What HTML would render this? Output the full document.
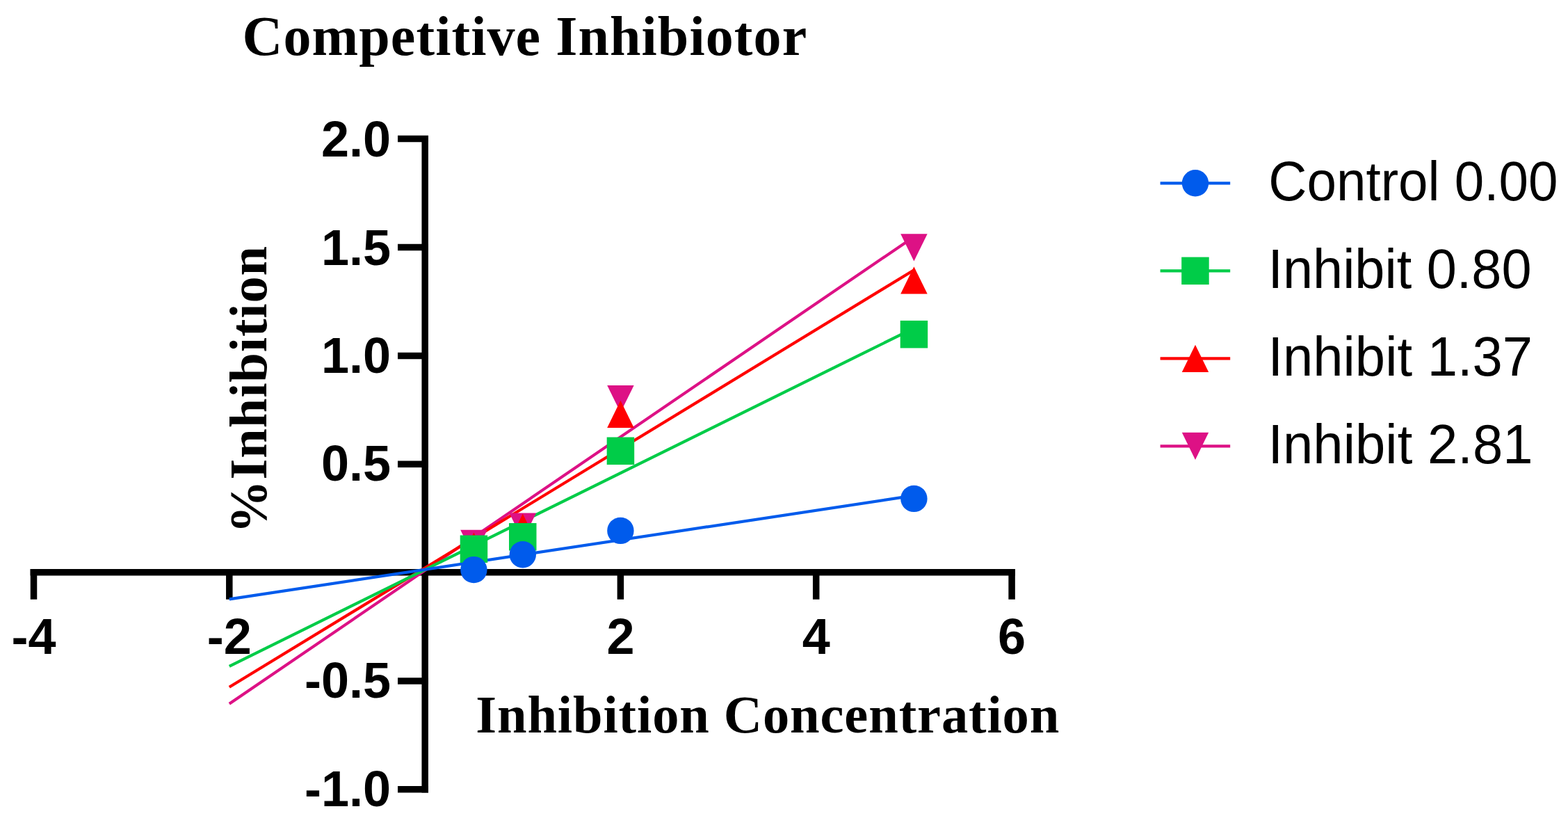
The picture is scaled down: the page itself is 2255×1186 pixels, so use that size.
<!DOCTYPE html><html><head><meta charset="utf-8"><style>html,body{margin:0;padding:0;background:#fff;}svg{display:block}</style></head><body>
<svg width="2255" height="1186" viewBox="0 0 2255 1186">
<rect width="2255" height="1186" fill="#fff"/>
<text x="348.6" y="78.6" font-family="Liberation Serif, serif" font-weight="bold" font-size="80" letter-spacing="1.08" fill="#000">Competitive Inhibiotor</text>
<g fill="none" stroke="#000" stroke-width="9.5" stroke-linecap="butt">
<line x1="611.2" y1="194.9" x2="611.2" y2="1139.5"/>
<line x1="572" y1="199.6" x2="616.0" y2="199.6"/>
<line x1="572" y1="355.5" x2="616.0" y2="355.5"/>
<line x1="572" y1="511.4" x2="616.0" y2="511.4"/>
<line x1="572" y1="667.2" x2="616.0" y2="667.2"/>
<line x1="572" y1="979.0" x2="616.0" y2="979.0"/>
<line x1="572" y1="1134.8" x2="616.0" y2="1134.8"/>
<line x1="43.6" y1="822.8" x2="1459.9" y2="822.8"/>
<line x1="48.5" y1="818.0" x2="48.5" y2="861.7"/>
<line x1="329.8" y1="818.0" x2="329.8" y2="861.7"/>
<line x1="892.4" y1="818.0" x2="892.4" y2="861.7"/>
<line x1="1173.7" y1="818.0" x2="1173.7" y2="861.7"/>
<line x1="1455.1" y1="818.0" x2="1455.1" y2="861.7"/>
</g>
<line x1="329.8" y1="1011.8" x2="1314.4" y2="340.4" stroke="#dd1185" stroke-width="4.2"/>
<line x1="329.8" y1="987.8" x2="1314.4" y2="388.2" stroke="#ff0000" stroke-width="4.2"/>
<line x1="329.8" y1="957.8" x2="1314.4" y2="471.8" stroke="#00cc48" stroke-width="4.2"/>
<line x1="329.8" y1="861.3" x2="1314.4" y2="712.4" stroke="#005bec" stroke-width="4.2"/>
<polygon points="662.2,761.8 700.7,761.8 681.4,801.0" fill="#dd1185"/>
<polygon points="732.5,737.6 771.0,737.6 751.8,776.9" fill="#dd1185"/>
<polygon points="873.2,553.9 911.7,553.9 892.4,593.1" fill="#dd1185"/>
<polygon points="1295.2,336.2 1333.7,336.2 1314.4,375.4" fill="#dd1185"/>
<polygon points="681.4,765.4 700.7,804.6 662.2,804.6" fill="#ff0000"/>
<polygon points="751.8,738.6 771.0,777.9 732.5,777.9" fill="#ff0000"/>
<polygon points="892.4,575.8 911.7,615.0 873.2,615.0" fill="#ff0000"/>
<polygon points="1314.4,383.3 1333.7,422.5 1295.2,422.5" fill="#ff0000"/>
<rect x="661.7" y="769.5" width="39.5" height="39.5" fill="#00cc48"/>
<rect x="732.0" y="752.0" width="39.5" height="39.5" fill="#00cc48"/>
<rect x="872.7" y="628.5" width="39.5" height="39.5" fill="#00cc48"/>
<rect x="1294.7" y="460.9" width="39.5" height="39.5" fill="#00cc48"/>
<circle cx="681.4" cy="819.1" r="19.2" fill="#005bec"/>
<circle cx="751.8" cy="797.2" r="19.2" fill="#005bec"/>
<circle cx="892.4" cy="762.9" r="19.2" fill="#005bec"/>
<circle cx="1314.4" cy="716.9" r="19.2" fill="#005bec"/>
<g font-family="Liberation Sans, sans-serif" font-weight="bold" font-size="72" fill="#000">
<text x="562.0" y="225.2" text-anchor="end">2.0</text>
<text x="562.0" y="381.2" text-anchor="end">1.5</text>
<text x="562.0" y="535.8" text-anchor="end">1.0</text>
<text x="562.0" y="691.1" text-anchor="end">0.5</text>
<text x="562.0" y="1002.5" text-anchor="end">-0.5</text>
<text x="562.0" y="1158.6" text-anchor="end">-1.0</text>
<text x="48.5" y="940.3" text-anchor="middle">-4</text>
<text x="329.8" y="940.3" text-anchor="middle">-2</text>
<text x="892.4" y="940.3" text-anchor="middle">2</text>
<text x="1173.7" y="940.3" text-anchor="middle">4</text>
<text x="1455.1" y="940.3" text-anchor="middle">6</text>
</g>
<text x="684.3" y="1053.3" font-family="Liberation Serif, serif" font-weight="bold" font-size="76.5" letter-spacing="0.9" fill="#000">Inhibition Concentration</text>
<text transform="translate(382.6,766.8) rotate(-90)" x="0" y="0" font-family="Liberation Serif, serif" font-weight="bold" font-size="76.5" letter-spacing="0.9" fill="#000">%Inhibition</text>
<line x1="1668.6" y1="263.3" x2="1769.2" y2="263.3" stroke="#005bec" stroke-width="4.2"/>
<circle cx="1719.0" cy="263.3" r="19.2" fill="#005bec"/>
<text transform="translate(1824.25,288.1) scale(0.955,1)" font-family="Liberation Sans, sans-serif" font-size="80" fill="#000">Control 0.00</text>
<line x1="1668.6" y1="389.3" x2="1769.2" y2="389.3" stroke="#00cc48" stroke-width="4.2"/>
<rect x="1699.2" y="369.6" width="39.5" height="39.5" fill="#00cc48"/>
<text transform="translate(1823.40,414.1) scale(0.969,1)" font-family="Liberation Sans, sans-serif" font-size="80" fill="#000">Inhibit 0.80</text>
<line x1="1668.6" y1="515.3" x2="1769.2" y2="515.3" stroke="#ff0000" stroke-width="4.2"/>
<polygon points="1719.0,495.7 1738.2,534.9 1699.8,534.9" fill="#ff0000"/>
<text transform="translate(1823.40,540.1) scale(0.973,1)" font-family="Liberation Sans, sans-serif" font-size="80" fill="#000">Inhibit 1.37</text>
<line x1="1668.6" y1="641.3" x2="1769.2" y2="641.3" stroke="#dd1185" stroke-width="4.2"/>
<polygon points="1699.8,621.7 1738.2,621.7 1719.0,660.9" fill="#dd1185"/>
<text transform="translate(1823.40,666.1) scale(0.974,1)" font-family="Liberation Sans, sans-serif" font-size="80" fill="#000">Inhibit 2.81</text>
</svg></body></html>
